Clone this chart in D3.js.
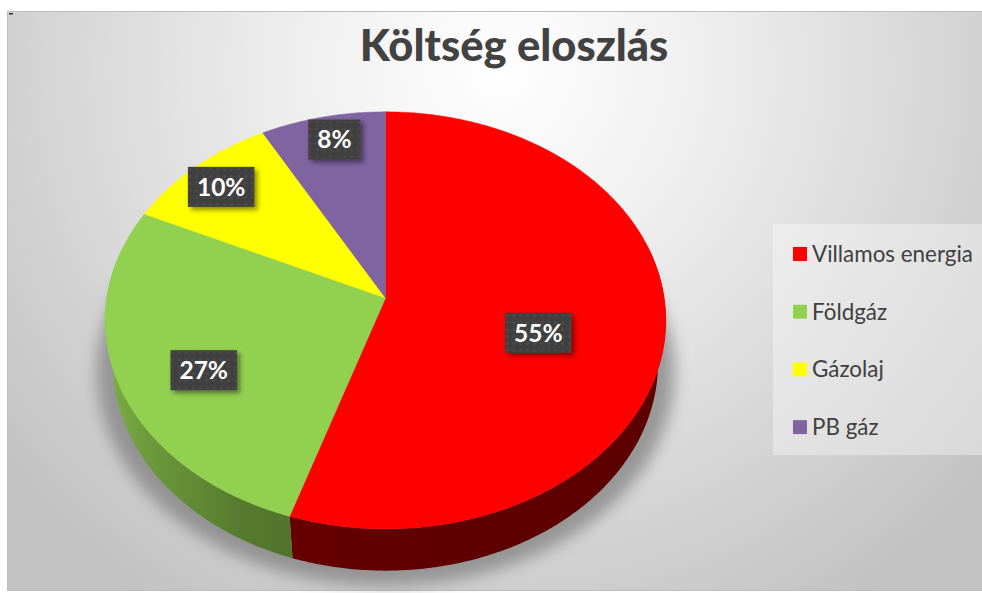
<!DOCTYPE html>
<html>
<head>
<meta charset="utf-8">
<script src="https://cdn.jsdelivr.net/npm/d3@7"></script>
<style>
  body { margin: 0; background: #fff; }
  svg { display: block; font-family: Lato, "Open Sans", sans-serif; }
</style>
</head>
<body>
<svg width="982" height="593"></svg>
<script>
// data
const categories = ["Villamos energia", "Földgáz", "Gázolaj", "PB gáz"];
const values = [55, 27, 10, 8];
const labels = ["55%", "27%", "10%", "8%"];
const colors = ["#ff0000", "#92d050", "#ffff00", "#8064a2"];

var svg = d3.select("svg"),
    W = +svg.attr("width"),
    H = +svg.attr("height");

var defs = svg.append("defs");

// background gradient
var bg = defs.append("radialGradient")
    .attr("id", "bg")
    .attr("gradientUnits", "userSpaceOnUse")
    .attr("cx", 500).attr("cy", 70).attr("r", 640);
bg.append("stop").attr("offset", 0).attr("stop-color", "#ffffff");
bg.append("stop").attr("offset", 0.3).attr("stop-color", "#f0f0f0");
bg.append("stop").attr("offset", 1).attr("stop-color", "#c2c2c2");

var blur = defs.append("filter").attr("id", "blur")
    .attr("x", "-20%").attr("y", "-20%").attr("width", "140%").attr("height", "140%");
blur.append("feGaussianBlur").attr("stdDeviation", 8);

var drop = defs.append("filter").attr("id", "drop")
    .attr("x", "-30%").attr("y", "-30%").attr("width", "160%").attr("height", "160%");
drop.append("feDropShadow").attr("dx", 3).attr("dy", 3).attr("stdDeviation", 2.5)
    .attr("flood-color", "#000").attr("flood-opacity", 0.45);

var dots = defs.append("pattern").attr("id", "dots")
    .attr("patternUnits", "userSpaceOnUse").attr("width", 7).attr("height", 7);
dots.append("rect").attr("width", 7).attr("height", 7).attr("fill", "#3f3f3f");
dots.append("circle").attr("cx", 3.5).attr("cy", 3.5).attr("r", 1.6).attr("fill", "#4b4b4b");

// chart frame
svg.append("rect")
    .attr("x", 7.5).attr("y", 11.5)
    .attr("width", W).attr("height", H - 14)
    .attr("fill", "url(#bg)")
    .attr("stroke", "#bdbdbd");
svg.append("rect").attr("x", 9).attr("y", 13).attr("width", 4).attr("height", 1.5).attr("fill", "#333");

// title
svg.append("text")
    .attr("x", 514).attr("y", 61)
    .attr("text-anchor", "middle")
    .attr("font-size", 43.5).attr("font-weight", 900)
    .attr("fill", "#424242")
    .text("Költség eloszlás");

// 3D pie projection
var cx = 385.5, cy = 298,
    tilt = 47.7 * Math.PI / 180,
    sa = Math.sin(tilt), ca = Math.cos(tilt),
    dist = 6.28, focal = 1750, thick = 0.24;

function proj(r, phi, w) {
    var u = r * Math.sin(phi), v = -r * Math.cos(phi);
    var Y = v * sa + w * ca, Z = dist - v * ca + w * sa;
    return [cx + focal * u / Z, cy + focal * Y / Z];
}

var pie = d3.pie().sort(null).value(d => d)(values);
var line = d3.line();

function arcPoints(a0, a1, r, w) {
    var n = Math.max(2, Math.ceil((a1 - a0) / 0.01)), pts = [];
    for (var i = 0; i <= n; i++) pts.push(proj(r, a0 + (a1 - a0) * i / n, w));
    return pts;
}

// shadow
var rim = arcPoints(0, 2 * Math.PI, 1, thick);
var sc = d3.polygonCentroid(rim);
svg.append("path")
    .attr("d", line(rim.map(p => [sc[0] + (p[0] - sc[0]) * 1.06, sc[1] + (p[1] - sc[1]) * 1.03 + 9])) + "Z")
    .attr("fill", "#7a7a7a")
    .attr("opacity", 0.7)
    .attr("filter", "url(#blur)");

var g = svg.append("g");

// side walls, one path per slice with horizontal shading
var lo = 0.42 * Math.PI, hi = 1.58 * Math.PI;
pie.forEach(function(d, i) {
    var a0 = Math.max(d.startAngle, lo), a1 = Math.min(d.endAngle, hi);
    if (a1 <= a0) return;
    var base = d3.rgb(colors[i]);
    var k = i === 0 ? 0.38 : 0.53;
    var shade = m => d3.rgb(base.r * k * m, base.g * k * m, base.b * k * m).formatHex();
    var grad = defs.append("linearGradient")
        .attr("id", "side" + i)
        .attr("gradientUnits", "userSpaceOnUse")
        .attr("x1", cx - 282).attr("x2", cx + 282).attr("y1", 0).attr("y2", 0);
    [[0, 1.6], [0.08, 1.4], [0.25, 1.1], [0.45, 1], [1, 0.95]].forEach(function(s) {
        grad.append("stop").attr("offset", s[0]).attr("stop-color", shade(s[1]));
    });
    var pts = arcPoints(a0, a1, 1, 0).concat(arcPoints(a0, a1, 1, thick).reverse());
    g.append("path")
        .attr("d", line(pts) + "Z")
        .attr("fill", "url(#side" + i + ")");
});

// top faces
g.selectAll(".slice")
    .data(pie)
    .enter().append("path")
    .attr("class", "slice")
    .attr("d", d => line([[cx, cy]].concat(arcPoints(d.startAngle, d.endAngle, 1, 0))) + "Z")
    .attr("fill", (d, i) => colors[i])
    .attr("stroke", (d, i) => colors[i]).attr("stroke-width", 0.5);

// data labels
var labelPos = [{r: 0.55, dy: 17}, {r: 0.69, dy: 14}, {r: 0.86, dy: 3}, {r: 0.8, dy: -11}];
var lab = svg.selectAll(".lab")
    .data(pie)
    .enter().append("g")
    .attr("class", "lab")
    .attr("transform", function(d, i) {
        var p = proj(labelPos[i].r, (d.startAngle + d.endAngle) / 2, 0);
        return "translate(" + p[0] + "," + (p[1] + labelPos[i].dy) + ")";
    });
lab.append("rect").attr("filter", "url(#drop)");
lab.append("text")
    .attr("text-anchor", "middle")
    .attr("dy", "0.36em")
    .attr("font-size", 24.5).attr("font-weight", "bold")
    .attr("fill", "#fff")
    .text((d, i) => labels[i]);
lab.each(function() {
    var t = d3.select(this).select("text").node().getComputedTextLength();
    d3.select(this).select("rect")
        .attr("x", -t / 2 - 9).attr("y", -20)
        .attr("width", t + 18).attr("height", 40)
        .attr("fill", "url(#dots)");
});

// legend
var legend = svg.append("g");
legend.append("rect")
    .attr("x", 773).attr("y", 224)
    .attr("width", 220).attr("height", 231)
    .attr("fill", "#ffffff").attr("opacity", 0.35);
var item = legend.selectAll(".item")
    .data(categories)
    .enter().append("g")
    .attr("class", "item")
    .attr("transform", (d, i) => "translate(793," + (254 + i * 57.7) + ")");
item.append("rect")
    .attr("x", 0).attr("y", -7)
    .attr("width", 14).attr("height", 14)
    .attr("fill", (d, i) => colors[i]);
item.append("text")
    .attr("x", 19).attr("dy", "0.36em")
    .attr("font-size", 22.4)
    .attr("fill", "#404040")
    .text(d => d);
</script>
</body>
</html>
